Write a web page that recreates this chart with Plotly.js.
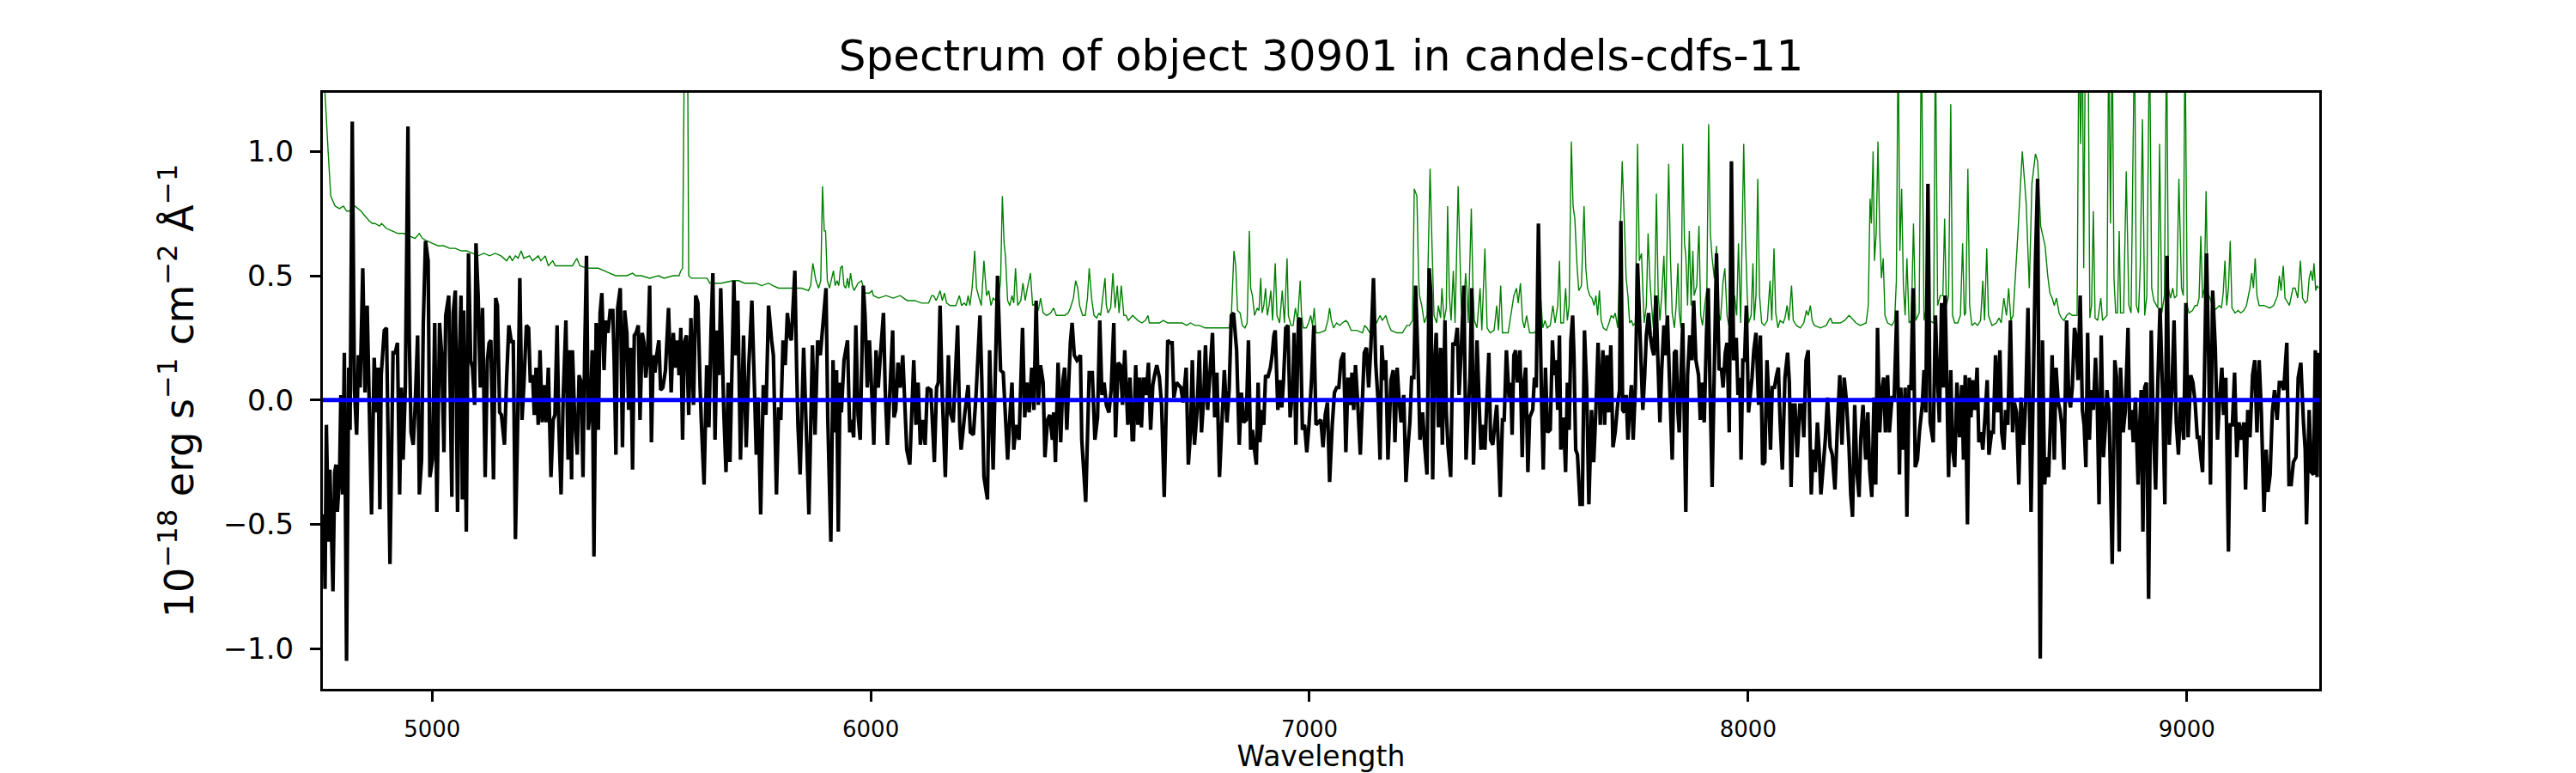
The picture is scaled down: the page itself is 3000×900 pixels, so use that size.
<!DOCTYPE html>
<html>
<head>
<meta charset="utf-8">
<script src="https://cdn.plot.ly/plotly-3.0.1.min.js"></script>
<style>
  html, body { margin: 0; padding: 0; background: #fff; }
  #SpectrumPlot { width: 3000px; height: 900px; }
</style>
</head>
<body>
<div id="SpectrumPlot"></div>
<script>
// observed flux, [wavelength (A), flux (1e-18 erg/s/cm2/A)]
const fluxPoints = [
  [4753,-0.46],[4756,-0.76],[4759,-0.10],[4764,-0.57],[4767,-0.28],[4771,-0.56],[4774,-0.77],[4778,-0.29],[4781,-0.26],[4784,-0.45],
  [4789,-0.31],[4792,0.02],[4796,-0.38],[4800,0.19],[4805,-1.05],[4810,0.13],[4813,-0.12],[4818,1.12],[4823,0.04],[4828,-0.14],
  [4832,0.18],[4836,0.05],[4842,0.53],[4847,0.03],[4852,0.38],[4862,-0.46],[4868,0.17],[4873,-0.05],[4877,0.13],[4881,-0.44],
  [4884,0.10],[4891,0.28],[4896,0.29],[4904,-0.66],[4911,0.19],[4916,0.19],[4921,0.23],[4926,-0.38],[4930,0.05],[4934,-0.24],
  [4939,0.05],[4945,1.10],[4948,0.26],[4952,-0.13],[4957,-0.18],[4961,-0.04],[4967,0.26],[4971,-0.38],[4976,-0.24],[4980,0.31],
  [4985,0.64],[4991,0.56],[4995,-0.31],[5001,-0.24],[5006,0.31],[5011,-0.45],[5017,0.31],[5022,0.18],[5027,-0.21],[5031,0.34],
  [5038,0.42],[5045,-0.39],[5048,0.35],[5053,0.44],[5058,-0.45],[5062,0.16],[5066,0.42],[5069,-0.40],[5072,0.36],[5078,-0.53],
  [5083,0.59],[5088,0.16],[5092,0.13],[5097,-0.02],[5100,0.63],[5105,0.42],[5110,0.05],[5115,0.37],[5121,-0.31],[5126,0.16],
  [5130,0.23],[5134,0.24],[5140,-0.32],[5145,0.41],[5149,0.38],[5154,-0.05],[5158,-0.06],[5165,-0.18],[5170,0.09],[5175,0.30],
  [5181,0.23],[5185,0.24],[5190,-0.56],[5195,-0.10],[5200,0.49],[5205,-0.08],[5209,0.05],[5215,0.30],[5220,0.29],[5224,0.07],
  [5229,0.10],[5233,-0.06],[5237,0.13],[5242,-0.10],[5246,0.20],[5251,-0.09],[5255,0.06],[5260,-0.09],[5265,0.13],[5271,-0.31],
  [5276,-0.08],[5280,-0.06],[5285,0.30],[5289,-0.11],[5294,-0.38],[5299,0.02],[5305,0.32],[5310,-0.24],[5314,0.20],[5318,-0.32],
  [5320,0.20],[5325,-0.07],[5331,-0.22],[5335,0.10],[5340,0.07],[5344,-0.31],[5348,0.20],[5352,0.58],[5356,-0.12],[5361,-0.04],
  [5365,0.20],[5369,-0.63],[5374,0.31],[5379,-0.12],[5383,0.35],[5387,0.43],[5392,0.12],[5396,0.32],[5401,0.27],[5406,0.36],
  [5412,0.36],[5415,0.16],[5419,-0.22],[5423,0.37],[5429,0.45],[5434,-0.19],[5439,0.36],[5444,0.27],[5448,-0.04],[5453,0.21],
  [5457,-0.28],[5461,0.26],[5465,0.27],[5470,0.30],[5474,-0.08],[5479,0.27],[5483,0.23],[5487,0.09],[5491,0.16],[5496,0.46],
  [5500,-0.17],[5504,0.18],[5508,0.11],[5512,0.18],[5517,0.24],[5521,0.04],[5526,0.05],[5532,0.12],[5539,0.37],[5545,0.03],
  [5550,0.27],[5554,0.13],[5559,0.24],[5563,0.10],[5567,0.29],[5571,-0.16],[5575,0.23],[5580,0.26],[5585,-0.06],[5590,0.33],
  [5596,-0.02],[5601,0.42],[5606,0.39],[5611,0.05],[5614,-0.10],[5620,-0.34],[5626,0.14],[5631,-0.11],[5636,0.29],[5640,0.51],
  [5645,-0.16],[5650,0.28],[5654,0.10],[5658,0.45],[5665,-0.05],[5670,-0.29],[5675,0.07],
  [5679,-0.25],[5688,0.48],[5692,0.18],[5697,0.40],[5703,-0.24],[5710,0.26],[5716,-0.19],[5722,0.14],[5729,0.40],[5735,0.04],
  [5739,-0.22],[5743,0.01],[5749,-0.46],[5755,0.06],[5761,-0.06],[5767,0.38],[5774,0.24],[5778,0.18],[5785,-0.38],[5790,-0.03],
  [5795,-0.08],[5800,0.24],[5805,0.14],[5810,0.35],[5815,0.26],[5819,0.24],[5827,0.52],[5831,0.13],[5834,-0.10],[5839,-0.30],
  [5847,0.21],[5853,-0.12],[5859,-0.46],[5867,0.22],[5873,-0.14],[5879,0.24],[5885,0.18],[5898,0.45],[5902,-0.07],[5909,-0.57],
  [5914,0.16],[5918,-0.13],[5922,0.12],[5926,-0.53],[5930,0.07],[5933,-0.05],[5939,0.16],[5947,0.24],[5952,-0.13],[5956,-0.08],
  [5961,-0.15],[5966,0.30],[5971,-0.06],[5976,-0.16],[5983,0.46],[5987,0.34],[5992,0.05],[5997,0.24],[6002,0.04],[6007,-0.18],
  [6012,0.20],[6017,0.05],[6022,0.18],[6029,0.35],[6033,0.04],[6038,-0.18],[6050,0.28],[6053,-0.07],[6057,-0.04],[6062,0.15],
  [6067,0.05],[6073,0.18],[6082,-0.20],[6089,-0.26],[6098,0.16],[6103,-0.10],[6108,0.07],[6113,-0.18],[6119,-0.08],[6124,-0.18],
  [6129,0.05],[6137,0.04],[6145,-0.25],[6150,0.05],[6154,0.07],[6158,0.38],[6163,0.02],[6170,-0.31],[6177,0.18],[6181,-0.05],
  [6188,-0.09],[6198,0.30],[6203,-0.12],[6206,-0.20],[6214,-0.06],[6222,0.06],[6227,-0.13],[6234,-0.14],[6240,0.02],[6249,0.34],
  [6253,0.09],[6258,-0.31],[6266,-0.40],[6271,0.20],[6279,-0.28],[6289,0.50],[6296,0.12],[6302,0.11],[6312,-0.24],[6318,-0.04],
  [6322,0.07],[6326,-0.20],[6331,-0.10],[6338,-0.16],[6346,0.29],[6351,-0.07],[6356,0.07],[6361,-0.05],[6367,0.13],[6372,-0.04],
  [6377,0.40],[6382,-0.02],[6387,0.14],[6393,0.07],[6397,-0.23],[6403,-0.08],[6408,-0.06],[6414,-0.16],[6417,-0.05],[6421,-0.25],
  [6427,0.15],[6433,-0.17],[6438,0.08],[6442,0.13],[6447,-0.12],[6455,0.23],[6459,0.31],[6464,0.18],[6470,0.16],[6478,0.18],
  [6481,-0.16],[6490,-0.41],[6498,0.11],[6505,0.11],[6511,-0.16],[6517,-0.07],[6522,0.32],[6527,0.02],[6532,0.07],[6537,-0.02],
  [6543,-0.05],[6548,0.04],[6554,0.31],[6558,-0.15],[6564,0.15],[6569,0.14],[6574,-0.02],[6579,0.20],[6586,-0.10],[6591,0.09],
  [6596,-0.16],
  [6599,-0.16],[6604,0.14],[6609,-0.10],[6613,0.09],[6617,-0.11],[6622,0.09],[6628,0.02],[6633,0.15],[6638,-0.12],[6643,0.06],
  [6647,0.10],[6652,0.14],[6658,0.09],[6663,-0.02],[6669,-0.39],[6677,0.24],[6682,0.23],[6687,0.23],[6691,0.01],[6697,0.07],
  [6702,0.06],[6707,0.05],[6712,-0.01],[6719,0.13],[6724,-0.26],[6729,-0.13],[6733,0.16],[6738,-0.18],[6744,-0.04],[6749,0.20],
  [6754,-0.13],[6759,0.01],[6763,0.22],[6768,-0.04],[6774,0.13],[6779,0.27],[6784,-0.07],[6789,0.11],[6795,-0.31],[6799,-0.15],
  [6806,0.12],[6812,-0.09],[6817,0.04],[6822,0.34],[6827,0.35],[6834,0.20],[6840,-0.18],[6845,0.03],[6850,-0.09],[6856,-0.08],
  [6861,0.24],[6866,-0.20],[6870,-0.12],[6874,-0.19],[6879,-0.26],[6883,0.07],[6887,-0.17],[6892,-0.04],[6896,-0.10],[6900,0.10],
  [6905,0.09],[6911,0.13],[6915,0.18],[6919,0.26],[6922,0.28],[6928,-0.04],[6933,0.08],[6937,-0.03],[6941,0.08],[6946,0.29],
  [6951,0.30],[6956,-0.07],[6962,0.05],[6965,0.27],[6969,-0.18],[6975,0.32],[6979,0.33],[6984,-0.12],[6989,-0.10],[6994,-0.21],
  [6999,-0.10],[7005,0.09],[7010,0.30],[7015,-0.10],[7020,-0.09],[7026,-0.08],[7031,-0.19],[7036,-0.06],[7041,-0.01],[7046,-0.33],
  [7052,-0.10],[7057,0.03],[7062,0.05],[7067,0.05],[7072,0.16],[7078,0.19],[7083,-0.21],[7088,0.09],[7093,-0.02],[7097,0.11],
  [7101,-0.04],[7105,0.14],[7110,-0.01],[7116,-0.22],[7121,0.01],[7125,0.19],[7130,0.21],[7135,0.05],[7140,0.21],[7146,0.49],
  [7151,0.15],[7156,0.01],[7161,-0.24],[7165,0.22],[7170,0.08],[7174,0.16],[7179,-0.24],[7186,0.08],[7191,0.12],[7195,-0.17],
  [7200,0.13],[7204,0.01],[7209,-0.09],[7215,0.02],[7220,-0.33],[7225,-0.18],[7229,-0.09],[7233,0.09],[7238,0.09],[7242,0.46],
  [7247,0.18],[7252,-0.16],[7258,-0.05],[7263,-0.19],[7268,-0.30],[7273,0.53],[7277,0.42],[7281,-0.32],[7285,0.13],[7289,0.27],
  [7294,-0.11],[7299,0.21],[7303,-0.18],[7309,0.32],[7312,-0.05],[7316,-0.19],[7322,-0.31],[7327,0.23],[7332,0.22],[7337,0.29],
  [7341,0.02],[7346,0.20],[7352,0.46],[7357,-0.24],[7361,-0.08],[7366,0.09],[7370,0.45],[7374,-0.26],[7378,-0.04],[7382,0.24],
  [7387,-0.02],[7391,-0.20],[7395,-0.10],[7400,-0.20],[7405,0.02],[7409,0.19],[7413,-0.16],[7418,-0.18],[7423,-0.09],[7427,-0.02],
  [7431,-0.20],[7435,-0.39],[7440,-0.08],[7444,-0.08],[7449,0.20],[7455,0.01],[7459,0.07],[7462,-0.14],[7466,0.18],[7470,0.20],
  [7474,0.07],[7480,0.20],[7485,-0.23],[7489,0.07],[7493,0.13],[7498,-0.29],[7502,-0.07],
  [7509,-0.04],[7513,0.09],[7517,0.05],[7522,0.71],[7529,0.01],[7533,-0.28],[7538,0.13],[7543,-0.13],[7549,-0.12],[7554,0.24],
  [7558,0.10],[7562,0.16],[7566,-0.04],[7570,0.26],[7573,-0.20],[7579,-0.07],[7584,-0.29],[7588,0.07],[7592,-0.12],[7596,0.24],
  [7600,0.34],[7603,0.18],[7607,-0.20],[7611,-0.22],[7617,-0.42],[7622,-0.42],[7627,0.28],[7632,0.05],[7637,-0.42],[7643,-0.04],
  [7648,-0.25],[7653,-0.04],[7658,0.23],[7663,-0.10],[7669,0.20],[7673,-0.10],[7678,0.18],[7682,-0.05],[7687,0.22],[7692,-0.19],
  [7697,-0.13],[7703,-0.01],[7707,0.04],[7710,0.72],[7714,-0.04],[7718,-0.05],[7722,0.02],[7726,-0.16],[7730,-0.02],[7734,0.06],
  [7738,-0.16],[7743,0.05],[7748,0.55],[7755,0.20],[7760,-0.04],[7764,0.09],[7768,0.26],[7773,0.35],[7777,0.26],[7781,0.21],
  [7785,0.18],[7790,0.42],[7794,0.18],[7799,-0.09],[7803,0.12],[7808,0.30],[7812,0.18],[7816,0.34],[7821,0.07],[7827,-0.24],
  [7832,0.19],[7836,0.20],[7840,-0.05],[7843,-0.13],[7847,0.10],[7851,0.31],[7858,-0.45],[7862,0.10],[7867,0.26],[7872,0.16],
  [7876,0.40],[7881,0.16],[7887,0.10],[7891,-0.08],[7894,0.07],[7900,-0.09],[7905,0.26],[7909,0.45],[7913,0.07],[7918,-0.35],
  [7923,0.13],[7928,0.59],[7934,0.12],[7939,0.13],[7943,0.05],[7948,0.19],[7952,0.23],[7957,-0.13],[7962,0.96],[7967,0.16],
  [7973,0.25],[7977,0.02],[7981,0.09],[7984,-0.24],[7988,0.16],[7992,0.16],[7996,0.38],[8001,-0.05],[8005,0.02],[8009,0.09],
  [8013,0.20],[8018,0.27],[8024,-0.02],[8028,0.26],[8033,-0.26],[8038,-0.25],[8043,0.16],[8047,0.01],[8051,-0.20],[8055,0.05],
  [8060,0.05],[8065,0.10],[8069,0.13],[8073,-0.09],[8078,-0.28],[8084,0.09],[8090,0.19],[8094,0.07],[8098,-0.35],[8103,-0.02],
  [8107,-0.02],[8112,-0.23],[8118,-0.02],[8123,-0.02],[8127,-0.15],[8132,0.16],[8137,0.20],[8144,-0.38],[8148,-0.20],[8153,-0.29],
  [8158,-0.09],[8162,-0.21],[8166,-0.38],[8171,-0.27],[8176,-0.16],[8181,0.01],[8187,-0.19],[8192,-0.22],[8198,-0.36],[8204,-0.09],
  [8209,0.10],[8214,-0.18],[8219,0.09],[8224,0.00],[8230,-0.19],[8234,-0.38],[8238,-0.47],[8243,-0.02],[8248,-0.29],[8253,-0.39],
  [8257,-0.15],[8262,-0.02],[8268,-0.24],[8273,-0.05],[8277,-0.28],[8282,-0.39],[8287,0.01],[8291,-0.34],[8295,0.29],[8300,-0.13],
  [8305,0.04],[8309,0.09],[8313,-0.13],[8318,0.10],[8322,-0.13],[8328,0.01],[8333,0.01],[8339,0.36],[8345,-0.30],[8348,0.05],
  [8354,-0.20],[8358,0.05],[8362,-0.47],[8367,0.06],[8371,0.04],[8376,0.45],[8381,-0.27],[8386,-0.24],[8391,-0.12],[8397,-0.02],
  [8401,0.12],[8405,-0.05],[8410,0.87],[8415,-0.09],
  [8422,-0.17],[8427,0.34],[8431,0.13],[8436,-0.09],[8441,0.39],[8445,0.05],[8449,0.42],[8453,0.07],[8457,-0.31],[8462,0.12],
  [8466,-0.20],[8471,-0.27],[8476,0.07],[8482,-0.15],[8487,0.06],[8491,-0.24],[8495,0.10],[8500,-0.50],[8504,0.09],[8508,-0.07],
  [8512,0.08],[8517,-0.04],[8522,0.13],[8526,-0.17],[8531,-0.13],[8535,-0.20],[8540,-0.07],[8545,0.08],[8549,-0.22],[8555,-0.13],
  [8559,-0.13],[8564,0.18],[8569,-0.05],[8574,0.20],[8578,-0.13],[8583,-0.20],[8587,-0.04],[8592,-0.10],[8598,0.32],[8603,-0.13],
  [8607,-0.01],[8612,-0.05],[8617,-0.34],[8622,0.01],[8628,-0.18],[8633,0.01],[8638,0.37],[8645,-0.45],[8650,0.05],[8655,0.56],
  [8660,0.89],[8666,-1.04],[8671,0.24],[8676,-0.34],[8680,-0.23],[8685,-0.31],[8689,-0.10],[8693,0.18],[8698,-0.24],[8702,0.13],
  [8707,-0.01],[8711,-0.04],[8715,-0.10],[8720,-0.28],[8726,0.32],[8731,0.01],[8735,-0.03],[8739,0.05],[8744,0.29],[8748,0.25],
  [8752,0.08],[8757,0.42],[8762,-0.04],[8766,-0.10],[8770,-0.27],[8774,0.27],[8778,-0.16],[8782,0.04],[8787,-0.04],[8792,0.17],
  [8796,-0.02],[8800,-0.42],[8805,0.26],[8810,-0.23],[8814,-0.12],[8818,0.04],[8823,-0.05],[8830,-0.66],[8836,0.16],[8840,0.09],
  [8846,-0.61],[8849,0.13],[8855,-0.13],[8860,-0.04],[8866,0.29],[8870,-0.12],[8874,-0.04],[8878,-0.17],[8883,0.01],[8889,-0.34],
  [8893,-0.09],[8896,0.04],[8900,-0.53],[8904,0.05],[8908,0.07],[8913,-0.80],[8919,0.28],[8924,-0.12],[8929,-0.36],[8934,0.07],
  [8939,0.37],[8945,0.02],[8950,-0.42],[8955,0.58],[8960,-0.18],[8966,0.04],[8971,0.32],[8976,-0.09],[8981,-0.22],[8986,0.01],
  [8993,-0.16],[8998,0.39],[9003,-0.15],[9009,0.10],[9014,0.07],[9019,-0.01],[9024,-0.15],[9028,-0.15],[9032,-0.23],[9036,-0.29],
  [9040,0.07],[9045,0.59],[9050,0.16],[9054,-0.34],[9059,0.44],[9065,0.21],[9070,-0.16],[9075,0.01],[9080,0.13],[9084,-0.06],
  [9089,0.09],[9095,-0.61],[9099,-0.10],[9104,-0.10],[9109,0.11],[9114,-0.23],[9119,-0.09],[9125,-0.16],[9130,-0.09],[9134,-0.36],
  [9139,-0.04],[9144,-0.15],[9150,0.10],[9155,0.16],[9160,-0.13],[9165,0.16],[9170,-0.05],[9176,-0.45],[9181,-0.20],[9185,-0.37],
  [9190,-0.30],[9195,-0.05],[9200,0.04],[9206,-0.08],[9211,0.07],[9216,0.07],[9221,0.04],[9228,0.23],[9233,-0.34],[9238,-0.34],
  [9243,-0.25],[9249,-0.23],[9254,0.09],[9260,0.15],[9266,-0.09],[9270,-0.20],[9273,-0.50],[9279,-0.04],[9284,-0.29],[9289,-0.30],
  [9293,0.20],[9297,-0.31],[9300,0.19]
];

// flux uncertainty (green), same units; sky lines run off the top of the axes
const errorPoints = [
  [4751,1.50],[4756,1.23],[4763,1.00],[4769,0.82],[4779,0.78],[4789,0.77],[4798,0.78],[4805,0.76],[4811,0.76],[4824,0.78],
  [4838,0.76],[4847,0.74],[4857,0.72],[4864,0.71],[4870,0.71],[4880,0.70],[4885,0.71],[4896,0.69],[4909,0.68],[4922,0.67],
  [4935,0.67],[4948,0.66],[4961,0.65],[4971,0.67],[4978,0.65],[4988,0.64],[5001,0.63],[5014,0.62],[5027,0.62],[5040,0.61],
  [5053,0.61],[5066,0.60],[5079,0.60],[5092,0.59],[5105,0.58],[5118,0.59],[5131,0.58],[5144,0.59],[5157,0.58],[5170,0.56],
  [5177,0.58],[5183,0.56],[5190,0.58],[5196,0.57],[5203,0.60],[5209,0.57],[5222,0.58],[5229,0.56],[5242,0.58],[5248,0.56],
  [5258,0.58],[5265,0.54],[5275,0.56],[5281,0.54],[5294,0.54],[5307,0.54],[5320,0.54],[5330,0.57],[5337,0.54],[5353,0.53],
  [5366,0.53],[5379,0.53],[5392,0.52],[5405,0.51],[5418,0.50],[5431,0.50],[5444,0.50],[5457,0.51],[5464,0.50],[5477,0.50],
  [5496,0.49],[5516,0.50],[5529,0.49],[5549,0.50],[5563,0.50],[5567,0.52],[5571,0.53],[5576,1.60],[5582,1.60],[5585,0.50],
  [5591,0.49],[5601,0.49],[5614,0.49],[5627,0.49],[5633,0.47],[5646,0.47],[5659,0.47],
  [5686,0.48],[5699,0.48],[5712,0.47],[5725,0.47],[5738,0.47],[5751,0.46],[5767,0.47],[5777,0.46],[5790,0.45],[5803,0.45],
  [5816,0.45],[5829,0.45],[5842,0.45],[5858,0.44],[5863,0.46],[5868,0.55],[5875,0.48],[5881,0.45],[5886,0.48],[5890,0.86],
  [5894,0.68],[5897,0.68],[5901,0.48],[5906,0.45],[5911,0.49],[5915,0.52],[5919,0.46],[5923,0.48],[5927,0.46],[5931,0.53],
  [5935,0.54],[5939,0.46],[5943,0.45],[5947,0.49],[5950,0.45],[5954,0.51],[5958,0.46],[5962,0.44],[5971,0.47],[5979,0.48],
  [5987,0.43],[5997,0.43],[6003,0.44],[6006,0.42],[6018,0.41],[6035,0.42],[6051,0.41],[6067,0.42],[6083,0.40],[6100,0.40],
  [6116,0.39],[6132,0.39],[6139,0.42],[6143,0.42],[6149,0.40],[6154,0.42],[6158,0.44],[6163,0.40],[6168,0.43],[6173,0.39],
  [6181,0.38],[6194,0.38],[6202,0.42],[6207,0.38],[6213,0.39],[6218,0.38],[6222,0.42],[6226,0.38],[6231,0.45],[6237,0.60],
  [6241,0.45],[6247,0.41],[6252,0.38],[6258,0.56],[6264,0.42],[6269,0.44],[6274,0.38],[6279,0.41],[6290,0.39],[6296,0.48],
  [6300,0.82],[6304,0.63],[6307,0.58],[6312,0.40],[6317,0.38],[6322,0.42],[6326,0.39],[6330,0.53],[6335,0.38],[6342,0.40],
  [6347,0.47],[6352,0.40],[6357,0.45],[6364,0.51],[6369,0.38],[6376,0.39],[6382,0.36],[6387,0.41],[6393,0.35],[6401,0.34],
  [6410,0.35],[6417,0.37],[6423,0.34],[6432,0.34],[6442,0.34],[6450,0.35],[6455,0.37],[6462,0.41],[6467,0.48],[6472,0.45],
  [6476,0.38],[6483,0.34],[6489,0.34],[6494,0.41],[6498,0.53],[6504,0.40],[6509,0.34],[6515,0.33],[6520,0.35],[6524,0.34],
  [6528,0.40],[6534,0.49],[6537,0.38],[6541,0.35],[6547,0.37],[6552,0.51],[6557,0.37],[6562,0.46],[6566,0.35],[6571,0.46],
  [6577,0.34],[6582,0.34],[6587,0.32],[6592,0.33],[6597,0.34],
  [6609,0.32],[6618,0.31],[6626,0.32],[6632,0.34],[6635,0.31],[6645,0.31],[6658,0.31],[6667,0.32],[6677,0.31],[6687,0.31],
  [6697,0.31],[6710,0.31],[6720,0.30],[6729,0.31],[6739,0.30],[6749,0.30],[6762,0.29],[6775,0.29],[6788,0.29],[6801,0.29],
  [6817,0.29],[6822,0.34],[6828,0.60],[6832,0.54],[6836,0.36],[6842,0.35],[6847,0.30],[6853,0.29],[6858,0.31],[6863,0.68],
  [6866,0.45],[6870,0.42],[6875,0.34],[6881,0.37],[6885,0.36],[6889,0.49],[6892,0.35],[6896,0.38],[6900,0.45],[6904,0.34],
  [6908,0.38],[6912,0.44],[6916,0.32],[6922,0.55],[6926,0.34],[6932,0.31],[6938,0.44],[6943,0.31],[6949,0.57],[6952,0.34],
  [6958,0.30],[6963,0.30],[6968,0.37],[6973,0.32],[6979,0.48],[6982,0.34],[6986,0.29],[6993,0.29],[6998,0.31],[7003,0.34],
  [7007,0.30],[7011,0.37],[7015,0.27],[7023,0.27],[7036,0.28],[7042,0.32],[7046,0.37],[7050,0.32],[7055,0.29],[7062,0.31],
  [7069,0.30],[7075,0.31],[7083,0.32],[7088,0.31],[7095,0.28],[7108,0.28],[7121,0.27],[7126,0.30],[7131,0.29],[7138,0.27],
  [7147,0.31],[7153,0.31],[7161,0.34],[7166,0.32],[7174,0.34],[7179,0.31],[7186,0.28],[7199,0.27],[7212,0.27],[7222,0.30],
  [7228,0.30],[7235,0.32],[7239,0.85],[7245,0.82],[7249,0.48],[7251,0.42],[7256,0.38],[7262,0.31],[7268,0.34],[7275,0.93],
  [7279,0.65],[7284,0.34],[7290,0.31],[7294,0.38],[7299,0.33],[7302,0.45],[7307,0.32],[7312,0.37],[7315,0.78],[7319,0.42],
  [7323,0.32],[7328,0.52],[7332,0.31],[7339,0.86],[7343,0.59],[7346,0.38],[7350,0.31],[7356,0.51],[7359,0.44],[7362,0.31],
  [7369,0.77],[7373,0.43],[7376,0.32],[7382,0.29],[7389,0.45],[7393,0.28],[7400,0.61],[7405,0.29],[7412,0.27],[7421,0.28],
  [7427,0.38],[7431,0.28],[7436,0.46],[7440,0.27],[7453,0.27],[7466,0.42],[7472,0.45],[7476,0.39],[7481,0.47],[7486,0.32],
  [7490,0.29],[7495,0.34],[7502,0.27],
  [7512,0.27],[7519,0.28],[7527,0.41],[7532,0.29],[7537,0.32],[7542,0.29],[7549,0.30],[7555,0.38],[7560,0.31],[7566,0.38],
  [7570,0.56],[7573,0.31],[7579,0.31],[7584,0.45],[7588,0.32],[7592,0.38],[7597,1.04],[7601,0.78],[7605,0.73],[7610,0.54],
  [7614,0.44],[7620,0.46],[7626,0.78],[7630,0.53],[7634,0.45],[7639,0.42],[7644,0.41],[7649,0.38],[7653,0.42],[7657,0.34],
  [7661,0.44],[7665,0.32],[7670,0.29],[7677,0.28],[7683,0.31],[7688,0.34],[7693,0.33],[7697,0.35],[7703,0.29],[7708,0.64],
  [7713,0.96],[7718,0.71],[7722,0.49],[7726,0.42],[7730,0.31],[7734,0.32],[7738,0.30],[7743,0.31],[7748,1.03],[7752,0.56],
  [7757,0.59],[7763,0.31],[7768,0.38],[7772,0.67],[7776,0.49],[7780,0.38],[7784,0.29],[7787,0.42],[7791,0.83],[7795,0.43],
  [7799,0.32],[7803,0.42],[7808,0.58],[7812,0.34],[7819,0.95],[7823,0.57],[7827,0.35],[7832,0.29],[7836,0.38],[7840,0.55],
  [7843,0.35],[7847,0.29],[7851,1.03],[7855,0.63],[7858,0.58],[7862,0.38],[7866,0.68],[7870,0.38],[7874,0.60],[7877,0.42],
  [7883,0.46],[7888,0.70],[7892,0.34],[7896,0.30],[7901,0.38],[7906,0.45],[7910,1.11],[7914,0.67],[7918,0.57],[7923,0.49],
  [7928,0.62],[7932,0.35],[7937,0.32],[7943,0.48],[7947,0.53],[7952,0.34],[7956,0.30],[7964,0.29],[7969,0.42],[7974,0.34],
  [7978,0.63],[7983,0.31],[7990,1.03],[7994,0.65],[7998,0.42],[8001,0.31],[8007,0.34],[8011,0.55],[8014,0.32],[8018,0.42],
  [8022,0.89],[8026,0.42],[8031,0.31],[8037,0.30],[8044,0.32],[8050,0.48],[8054,0.32],[8059,0.61],[8063,0.35],[8068,0.29],
  [8073,0.32],[8080,0.31],[8084,0.33],[8089,0.38],[8093,0.32],[8099,0.46],[8103,0.32],[8110,0.30],[8119,0.29],[8127,0.31],
  [8133,0.36],[8137,0.34],[8142,0.38],[8146,0.32],[8151,0.30],[8165,0.29],[8178,0.30],[8184,0.32],[8188,0.33],[8192,0.31],
  [8198,0.31],[8210,0.31],[8220,0.32],[8230,0.34],[8236,0.33],[8246,0.31],[8256,0.30],[8269,0.31],[8274,0.38],[8278,0.81],
  [8281,0.71],[8285,1.00],[8288,0.56],[8292,0.67],[8296,1.04],[8300,0.67],[8304,0.49],[8308,0.57],[8312,0.34],[8318,0.31],
  [8328,0.30],[8334,0.32],[8338,0.48],[8342,1.50],[8346,0.60],[8350,0.85],[8354,0.46],[8358,0.34],[8362,0.57],[8367,0.31],
  [8372,0.32],[8377,0.71],[8382,0.32],[8390,0.35],[8395,1.50],[8401,0.32],[8407,0.38],[8412,0.32],[8423,0.31],[8427,1.50],
  [8432,0.38],[8438,0.42],[8444,0.42],[8448,0.73],[8452,0.38],[8457,0.42],[8462,1.19],[8466,0.34],[8471,0.31],[8478,0.31],
  [8484,0.34],[8489,0.63],[8493,0.34],[8496,0.35],[8501,0.93],[8505,0.38],[8510,0.30],[8517,0.31],[8523,0.30],[8530,0.32],
  [8535,0.48],[8539,0.32],[8544,0.61],[8548,0.34],[8556,0.30],[8566,0.31],[8572,0.33],[8577,0.31],[8583,0.41],[8589,0.34],
  [8594,0.45],[8599,0.32],[8604,0.34],[8615,0.67],[8625,1.00],[8634,0.79],[8641,0.45],[8647,0.87],[8655,0.99],[8660,0.96],
  [8667,0.70],[8677,0.62],[8683,0.50],[8688,0.43],[8693,0.41],[8698,0.38],[8703,0.41],[8709,0.35],[8714,0.33],[8720,0.32],
  [8726,0.34],[8732,0.35],[8739,0.34],[8745,0.34],[8750,0.34],[8754,1.50],[8758,1.03],[8762,1.50],[8765,0.53],[8769,1.50],
  [8775,1.50],[8779,0.33],[8783,0.38],[8787,0.76],[8791,0.33],[8797,0.32],[8804,0.41],[8808,0.32],[8818,0.34],[8822,1.50],
  [8826,0.71],[8830,1.50],[8834,0.49],[8838,0.35],[8842,0.35],[8846,0.68],[8849,0.35],[8856,0.35],[8862,0.92],[8868,0.38],
  [8873,0.35],[8881,1.50],[8885,0.38],[8890,0.35],[8894,0.54],[8899,1.13],[8904,0.34],[8909,0.42],[8915,1.50],[8920,0.45],
  [8925,0.40],[8934,0.37],[8938,1.03],[8943,0.35],[8949,0.42],[8954,1.50],[8958,0.45],[8963,0.41],[8968,0.45],[8972,0.41],
  [8977,0.42],[8982,0.89],[8988,0.45],[8992,0.42],[8996,1.50],[9001,0.38],[9005,0.35],[9013,0.36],[9019,0.38],[9024,0.38],
  [9028,0.41],[9032,0.66],[9036,0.41],[9040,0.45],[9044,0.84],[9048,0.43],[9053,0.41],[9058,0.38],[9063,0.36],[9069,0.37],
  [9074,0.38],[9079,0.37],[9083,0.43],[9087,0.56],[9091,0.38],[9095,0.45],[9099,0.64],[9103,0.37],[9110,0.35],[9117,0.36],
  [9123,0.35],[9130,0.36],[9136,0.38],[9144,0.45],[9148,0.51],[9152,0.45],[9156,0.57],[9160,0.42],[9165,0.38],[9176,0.38],
  [9189,0.37],[9198,0.38],[9207,0.42],[9211,0.50],[9215,0.44],[9220,0.54],[9224,0.41],[9234,0.38],[9242,0.45],[9247,0.45],
  [9253,0.41],[9259,0.56],[9264,0.41],[9270,0.39],[9275,0.40],[9279,0.49],[9283,0.52],[9287,0.48],[9290,0.55],[9294,0.44],
  [9297,0.46],[9300,0.45]
];

// fitted model (blue): flat zero over the whole range
const modelWave = [4751, 9302];
const modelFlux = [0, 0];

const xTicks = [5000, 6000, 7000, 8000, 9000];
const yTicks = [-1.0, -0.5, 0.0, 0.5, 1.0];
const yTickText = ["\u22121.0", "\u22120.5", "0.0", "0.5", "1.0"];

const xRange = [4751, 9302];
const yRange = [-1.162, 1.236];

function seriesFrom(points, name, color, width) {
    return {
        x: points.map((p) => p[0]),
        y: points.map((p) => p[1]),
        mode: "lines",
        name: name,
        line: { color: color, width: width, simplify: false },
        hoverinfo: "skip",
    };
}

const FONT = "DejaVu Sans, Liberation Sans, sans-serif";

const data = [
    seriesFrom(errorPoints, "error", "#008000", 1.4),
    seriesFrom(fluxPoints, "flux", "#000000", 4.2),
    {
        x: modelWave,
        y: modelFlux,
        mode: "lines",
        name: "model",
        line: { color: "#0000ff", width: 5 },
        hoverinfo: "skip",
    },
];

const axisCommon = {
    showgrid: false,
    zeroline: false,
    showline: true,
    mirror: true,
    linecolor: "#000",
    linewidth: 3,
    ticks: "outside",
    ticklen: 12,
    tickwidth: 3,
    tickcolor: "#000",
};

const layout = {
    width: 3000,
    height: 900,
    margin: { l: 376, r: 299, t: 108, b: 98, pad: 0 },
    paper_bgcolor: "#fff",
    plot_bgcolor: "#fff",
    showlegend: false,
    font: { family: FONT, color: "#000" },
    title: {
        text: "Spectrum of object 30901 in candels-cdfs-11",
        font: { family: FONT, size: 50, color: "#000" },
        x: 0.5,
        xref: "paper",
        y: 1 - 64 / 900,
        yref: "container",
        yanchor: "middle",
    },
    xaxis: Object.assign({}, axisCommon, {
        range: xRange,
        tickmode: "array",
        tickvals: xTicks,
        ticktext: xTicks.map(String),
        tickfont: { family: FONT, size: 26, color: "#000" },
        ticklabelstandoff: 10,
        title: {
            text: "Wavelength",
            font: { family: FONT, size: 33, color: "#000" },
            standoff: 8,
        },
    }),
    yaxis: Object.assign({}, axisCommon, {
        range: yRange,
        tickmode: "array",
        tickvals: yTicks,
        ticktext: yTickText,
        tickfont: { family: FONT, size: 34, color: "#000" },
        ticklabelstandoff: 12,
        title: {
            text: "10<sup>\u221218</sup> erg s<sup>\u22121</sup> cm<sup>\u22122</sup> \u00c5<sup>\u22121</sup>",
            font: { family: FONT, size: 46, color: "#000" },
            standoff: 20,
        },
    }),
};

Plotly.newPlot("SpectrumPlot", data, layout, { staticPlot: true, displayModeBar: false });
</script>
</body>
</html>
